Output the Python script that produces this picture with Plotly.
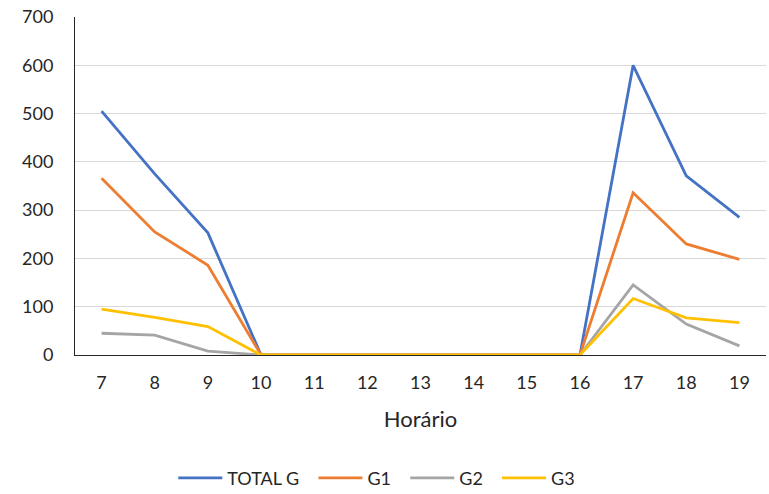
import plotly.graph_objects as go

horas = [7, 8, 9, 10, 11, 12, 13, 14, 15, 16, 17, 18, 19]
total_g = [505, 375, 253, 0, 0, 0, 0, 0, 0, 0, 600, 371, 285]
g1 = [366, 255, 186, 0, 0, 0, 0, 0, 0, 0, 336, 230, 198]
g2 = [45, 41, 8, 0, 0, 0, 0, 0, 0, 0, 145, 64, 19]
g3 = [95, 78, 59, 0, 0, 0, 0, 0, 0, 0, 117, 77, 67]
y_ticks = [0, 100, 200, 300, 400, 500, 600, 700]

series = [("TOTAL G", total_g, "#4472C4"), ("G1", g1, "#ED7D31"),
          ("G2", g2, "#A5A5A5"), ("G3", g3, "#FFC000")]

fig = go.Figure()
for i, (name, vals, col) in enumerate(series):
    pad = "\u00a0\u00a0" if i < len(series) - 1 else ""
    fig.add_trace(go.Scatter(x=horas, y=vals, name=name + pad, mode="lines",
                             line=dict(color=col, width=2.8)))

font = "Lato, 'Open Sans', sans-serif"
fig.update_layout(
    width=769, height=494,
    margin=dict(l=75, r=3, t=17, b=139),
    paper_bgcolor="white", plot_bgcolor="white",
    font=dict(family=font, size=18, color="#262626"),
    showlegend=True,
    legend=dict(orientation="h", xref="container", yref="container",
                x=0.49, xanchor="center", y=0.032, yanchor="middle",
                font=dict(size=18), traceorder="normal", itemwidth=44),
    xaxis=dict(range=[6.5, 19.5], tickmode="array", tickvals=horas,
               ticktext=[str(h) for h in horas], showgrid=False,
               showline=True, linecolor="#262626", linewidth=1,
               ticks="", ticklabelstandoff=11, zeroline=False,
               title=dict(text="Horário", standoff=20)),
    yaxis=dict(range=[0, 700], tickmode="array", tickvals=y_ticks,
               showgrid=True, gridcolor="#D9D9D9", gridwidth=1,
               showline=True, linecolor="#262626", linewidth=1,
               ticks="", ticklabelstandoff=17, zeroline=False),
)
fig.write_html("out.html", config={"displayModeBar": False},
               post_script="document.body.style.margin='0';")
